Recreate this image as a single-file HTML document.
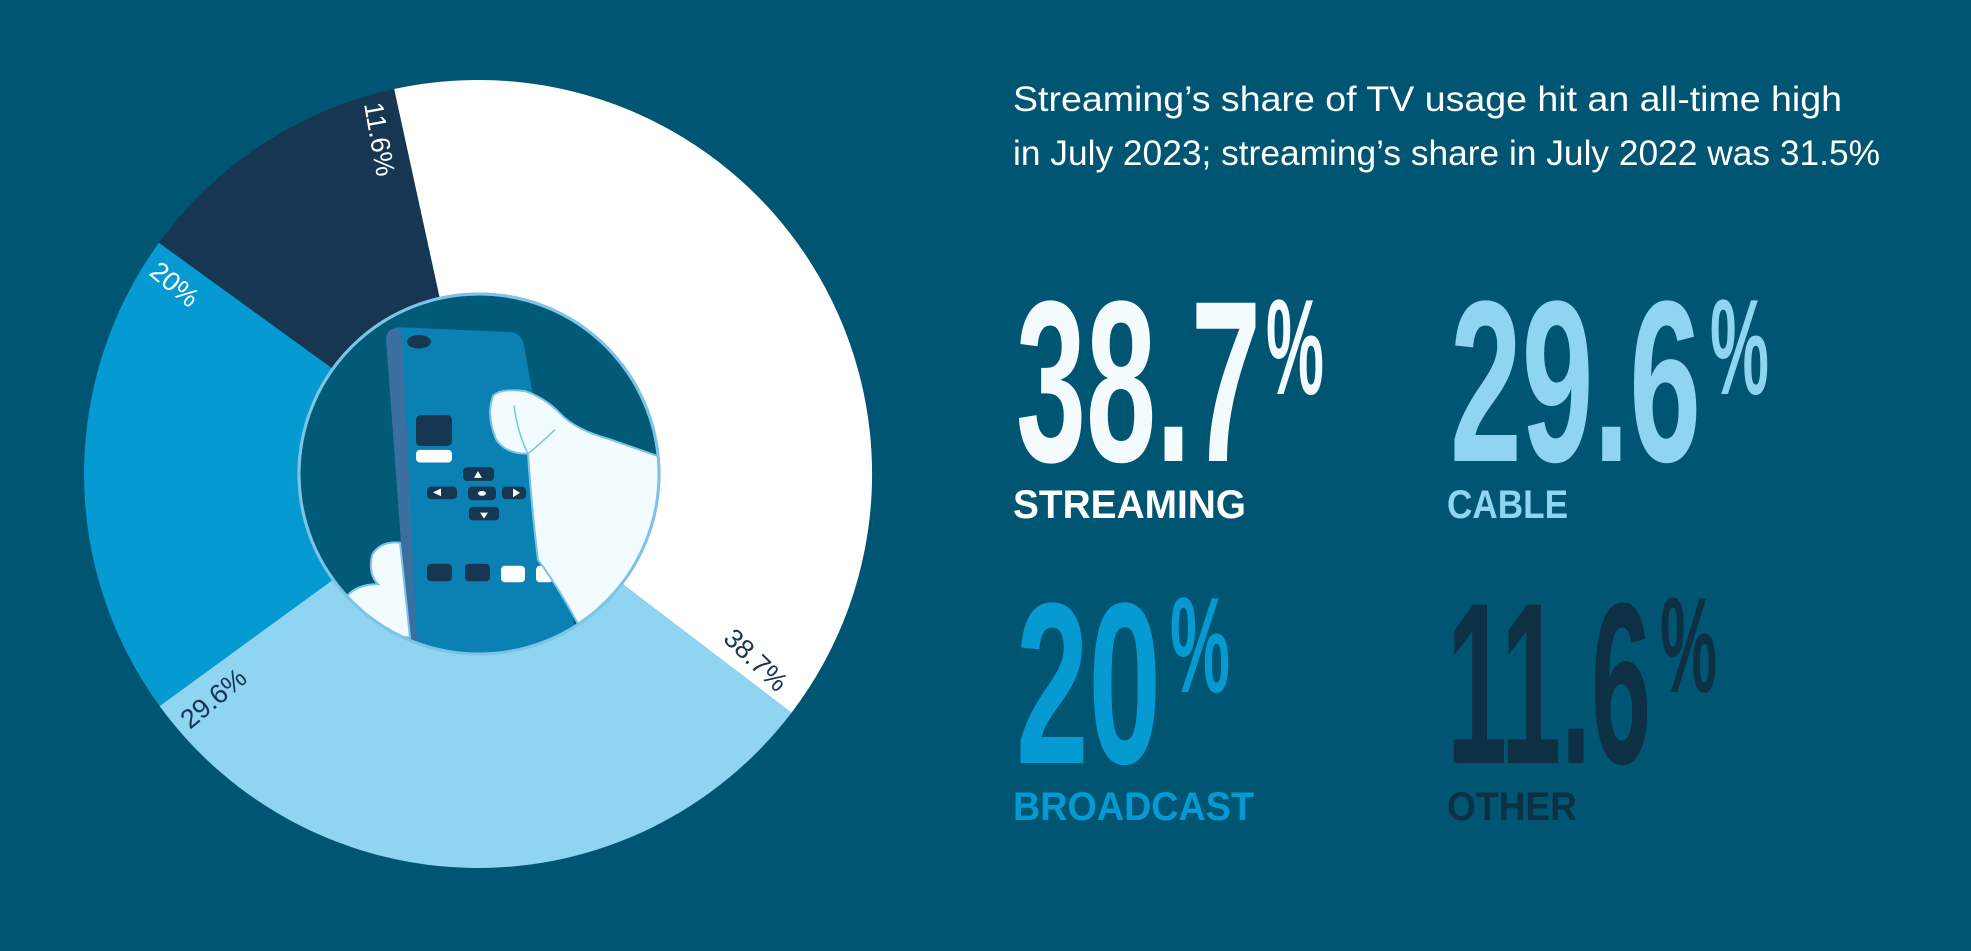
<!DOCTYPE html>
<html><head><meta charset="utf-8"><style>html,body{margin:0;padding:0;background:#005672}svg{display:block}</style></head>
<body>
<svg width="1971" height="951" viewBox="0 0 1971 951" xmlns="http://www.w3.org/2000/svg">
<rect width="1971" height="951" fill="#005672"/>
<defs><clipPath id="ic"><circle cx="479" cy="474" r="179"/></clipPath></defs>
<g transform="translate(478,474)">
<path d="M0 0 L-83.9 -385.0 A394 394 0 0 1 313.5 238.7 Z" fill="#ffffff"/>
<path d="M0 0 L313.5 238.7 A394 394 0 0 1 -318.4 232.0 Z" fill="#8fd4f0"/>
<path d="M0 0 L-318.4 232.0 A394 394 0 0 1 -319.0 -231.2 Z" fill="#069ad3"/>
<path d="M0 0 L-319.0 -231.2 A394 394 0 0 1 -83.9 -385.0 Z" fill="#163651"/>
</g>
<circle cx="479" cy="474" r="180" fill="#005a78" stroke="#7cc3e6" stroke-width="3"/>
<g clip-path="url(#ic)">
<g transform="scale(1,0.9655)">
<path d="M386 350 Q388 340 400 339 L512 344 Q522 346 524 358 L580 680 L412 690 Z" fill="#0a80b3"/>
<path d="M386 350 Q388 340 396 340 L402 345 L418 690 L410 690 Z" fill="#3a6fa0"/>
<ellipse cx="419" cy="354" rx="12" ry="7" fill="#163651"/>
<rect x="416" y="430" width="36" height="32" rx="5" fill="#163651"/>
<rect x="416" y="466" width="36" height="13" rx="4" fill="#ffffff"/>
<rect x="463" y="484" width="31" height="14" rx="4" fill="#163651"/>
<rect x="427" y="504" width="30" height="13" rx="4" fill="#163651"/>
<rect x="468" y="504" width="28" height="14" rx="4" fill="#163651"/>
<rect x="502" y="504" width="24" height="13" rx="4" fill="#163651"/>
<rect x="469" y="525" width="30" height="14" rx="4" fill="#163651"/>
<path d="M478 488 L474 495 L482 495Z M433 510 L441 506 L441 514Z" fill="#fff"/>
<path d="M480 531 L488 531 L484 537Z M513 506 L520 510.5 L513 515Z" fill="#fff"/>
<ellipse cx="482" cy="511" rx="4" ry="2.5" fill="#fff"/>
<rect x="427" y="584" width="25" height="18" rx="4" fill="#163651"/>
<rect x="465" y="584" width="25" height="18" rx="4" fill="#163651"/>
<rect x="501" y="586" width="24" height="17" rx="4" fill="#ffffff"/>
<rect x="536" y="586" width="17" height="17" rx="4" fill="#ffffff"/>
<path d="M493 410 Q500 402 525 405 Q545 412 560 428 Q575 445 610 455 L665 475 L665 700 L585 660 Q560 610 538 580 Q532 530 528 470 Q505 470 496 455 Q486 430 493 410 Z" fill="#f2fbff" stroke="#7cc3e6" stroke-width="2"/>
<path d="M514 420 Q518 450 528 470 M528 470 Q540 460 555 445" fill="none" stroke="#7cc3e6" stroke-width="1.5"/>
<path d="M400 562 Q380 560 372 575 Q368 595 378 605 Q355 605 345 620 L360 660 L410 660 Z" fill="#f2fbff" stroke="#7cc3e6" stroke-width="2"/>
</g>
</g>
<circle cx="479" cy="474" r="180" fill="none" stroke="#7cc3e6" stroke-width="3"/>
<g font-family="Liberation Sans, sans-serif" font-size="27">
<text transform="translate(364,104) rotate(80)" fill="#fff">11.6%</text>
<text transform="translate(148,274) rotate(40)" fill="#fff">20%</text>
<text transform="translate(190,730) rotate(-40)" fill="#163651">29.6%</text>
<text transform="translate(722,640) rotate(44)" fill="#163651">38.7%</text>
</g>
<g font-family="Liberation Sans, sans-serif" font-size="35" fill="#ffffff">
<text x="1013" y="111" textLength="829" lengthAdjust="spacingAndGlyphs">Streaming’s share of TV usage hit an all-time high</text>
<text x="1013" y="165" textLength="867" lengthAdjust="spacingAndGlyphs">in July 2023; streaming’s share in July 2022 was 31.5%</text>
</g>
<g font-family="Liberation Sans, sans-serif" font-weight="bold">
<text x="1016" y="461" font-size="230" fill="#f4fbff" textLength="245" lengthAdjust="spacingAndGlyphs">38.7</text>
<text x="1266" y="394" font-size="136" fill="#f4fbff" textLength="58" lengthAdjust="spacingAndGlyphs">%</text>
<text x="1013" y="518" font-size="40" fill="#ffffff" textLength="233" lengthAdjust="spacingAndGlyphs">STREAMING</text>

<text x="1450" y="461" font-size="230" fill="#8fd4f0" textLength="251" lengthAdjust="spacingAndGlyphs">29.6</text>
<text x="1710" y="394" font-size="136" fill="#8fd4f0" textLength="59" lengthAdjust="spacingAndGlyphs">%</text>
<text x="1447" y="518" font-size="40" fill="#8fd4f0" textLength="121" lengthAdjust="spacingAndGlyphs">CABLE</text>

<text x="1016" y="763" font-size="230" fill="#069ad3" textLength="145" lengthAdjust="spacingAndGlyphs">20</text>
<text x="1170" y="692" font-size="136" fill="#069ad3" textLength="60" lengthAdjust="spacingAndGlyphs">%</text>
<text x="1013" y="820" font-size="40" fill="#069ad3" textLength="241" lengthAdjust="spacingAndGlyphs">BROADCAST</text>

<text x="1447" y="763" font-size="230" fill="#0e3044" textLength="204" lengthAdjust="spacingAndGlyphs">11.6</text>
<text x="1660" y="692" font-size="136" fill="#0e3044" textLength="57" lengthAdjust="spacingAndGlyphs">%</text>
<text x="1447" y="820" font-size="40" fill="#0e3044" textLength="130" lengthAdjust="spacingAndGlyphs">OTHER</text>
</g>
</svg>
</body></html>
